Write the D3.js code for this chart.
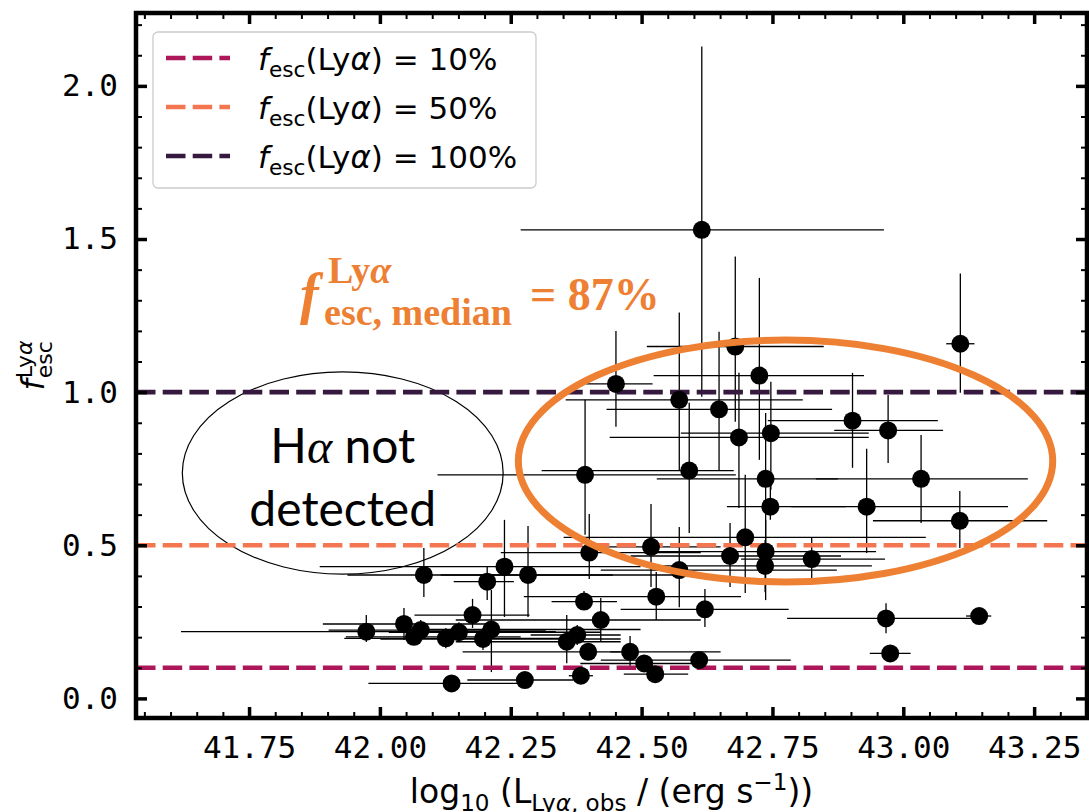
<!DOCTYPE html>
<html>
<head>
<meta charset="utf-8">
<title>fesc Lya</title>
<script src="https://cdn.jsdelivr.net/npm/d3@7"></script>
<style>
  body { margin: 0; background: #fff; }
  svg text { white-space: pre; }
</style>
</head>
<body>
<div id="wrapper"></div>
<script>
// values: log10 L_Lya,obs and f_esc with (lower, upper) errors
var lum = [41.974, 42.046, 42.065, 42.078, 42.084, 42.126, 42.137, 42.151, 42.177, 42.197,
           42.213, 42.205, 42.238, 42.283, 42.277, 42.392, 42.400, 42.390, 42.422, 42.357,
           42.377, 42.398, 42.384, 42.478, 42.505, 42.526, 42.518, 42.528, 42.572, 42.621,
           42.610, 42.572, 42.648, 42.686, 42.591, 42.451, 42.669, 42.698, 42.747, 42.737,
           42.746, 42.737, 42.736, 42.825, 42.903, 42.971, 43.034, 42.930, 43.108, 42.967,
           43.145, 42.975, 43.109, 42.615, 42.679, 42.725];
var lumErrLo = [0.354, 0.155, 0.130, 0.176, 0.146, 0.194, 0.159, 0.134, 0.111, 0.196,
                0.174, 0.064, 0.353, 0.167, 0.110, 0.282, 0.169, 0.062, 0.277, 0.212,
                0.089, 0.240, 0.023, 0.038, 0.122, 0.060, 0.096, 0.253, 0.150, 0.161,
                0.188, 0.217, 0.215, 0.247, 0.282, 0.057, 0.190, 0.347, 0.172, 0.208,
                0.083, 0.219, 0.199, 0.135, 0.162, 0.103, 0.201, 0.144, 0.166, 0.189,
                0.025, 0.039, 0.027, 0.346, 0.169, 0.202];
var lumErrHi = [0.362, 0.166, 0.204, 0.239, 0.361, 0.248, 0.151, 0.271, 0.109, 0.263,
                0.285, 0.051, 0.260, 0.330, 0.093, 0.288, 0.213, 0.063, 0.191, 0.103,
                0.083, 0.062, 0.023, 0.173, 0.108, 0.063, 0.133, 0.162, 0.301, 0.160,
                0.175, 0.236, 0.216, 0.248, 0.085, 0.070, 0.212, 0.345, 0.187, 0.138,
                0.144, 0.211, 0.204, 0.140, 0.163, 0.105, 0.204, 0.270, 0.167, 0.178,
                0.023, 0.039, 0.027, 0.348, 0.169, 0.200];
var fesc = [0.218, 0.243, 0.201, 0.223, 0.403, 0.196, 0.049, 0.216, 0.272, 0.194,
            0.225, 0.381, 0.430, 0.403, 0.060, 0.730, 0.476, 0.316, 0.256, 0.185,
            0.207, 0.152, 0.074, 0.152, 0.114, 0.079, 0.495, 0.332, 0.419, 0.291,
            0.125, 0.975, 0.944, 0.852, 0.744, 1.027, 0.465, 0.526, 0.866, 0.717,
            0.626, 0.479, 0.433, 0.455, 0.907, 0.875, 0.717, 0.626, 0.580, 0.261,
            0.269, 0.147, 1.158, 1.530, 1.149, 1.054];
var fescErrLo = [0.034, 0.052, 0.027, 0.032, 0.072, 0.032, 0.022, 0.033, 0.042, 0.036,
                 0.139, 0.060, 0.164, 0.137, 0.020, 0.196, 0.086, 0.027, 0.072, 0.070,
                 0.033, 0.028, 0.020, 0.050, 0.025, 0.020, 0.131, 0.076, 0.121, 0.058,
                 0.025, 0.229, 0.201, 0.230, 0.204, 0.140, 0.101, 0.182, 0.185, 0.216,
                 0.043, 0.158, 0.086, 0.062, 0.154, 0.106, 0.144, 0.151, 0.089, 0.048,
                 0.020, 0.023, 0.160, 0.545, 0.246, 0.275];
var fescErrHi = [0.054, 0.052, 0.029, 0.033, 0.088, 0.034, 0.024, 0.033, 0.053, 0.036,
                 0.129, 0.049, 0.153, 0.160, 0.020, 0.245, 0.126, 0.035, 0.072, 0.087,
                 0.033, 0.028, 0.020, 0.052, 0.025, 0.020, 0.140, 0.081, 0.141, 0.066,
                 0.025, 0.285, 0.253, 0.211, 0.221, 0.173, 0.108, 0.204, 0.168, 0.215,
                 0.087, 0.104, 0.084, 0.069, 0.156, 0.116, 0.143, 0.189, 0.097, 0.050,
                 0.020, 0.023, 0.229, 0.599, 0.294, 0.319];

// reference escape fractions
var refLevels = [0.1, 0.5, 1.0];
var refLabels = ["10%", "50%", "100%"];

// tick labels
var xTickValues = [41.75, 42.00, 42.25, 42.50, 42.75, 43.00, 43.25];
var xTickLabels = ["41.75", "42.00", "42.25", "42.50", "42.75", "43.00", "43.25"];
var yTickValues = [0.0, 0.5, 1.0, 1.5, 2.0];
var yTickLabels = ["0.0", "0.5", "1.0", "1.5", "2.0"];

var refColors = ["#ad1759", "#f37651", "#35193e"];
var orange = "#ee8033";

var svg = d3.select("#wrapper").append("svg")
  .attr("width", 1089).attr("height", 812)
  .style("background", "#fff")
  .style("font-family", "'DejaVu Sans', sans-serif");

var plot = {left: 136, right: 1087, top: 13, bottom: 718};
var x = d3.scaleLinear().domain([41.534, 43.351]).range([plot.left, plot.right]);
var y = d3.scaleLinear().domain([-0.064, 2.238]).range([plot.bottom, plot.top]);

svg.append("clipPath").attr("id", "clip").append("rect")
  .attr("x", plot.left).attr("y", plot.top)
  .attr("width", plot.right - plot.left).attr("height", plot.bottom - plot.top);

var g = svg.append("g").attr("clip-path", "url(#clip)");

// small helper for math-like labels: parts of {t, sub, sup, it}
function rich(textSel, base, parts) {
  var cur = 0;
  parts.forEach(function(p) {
    var target = p.sub ? 0.24 * base : (p.sup ? -0.40 * base : 0);
    var size = (p.sub || p.sup) ? base * 0.7 : base;
    var ts = textSel.append("tspan")
      .attr("dy", target - cur)
      .attr("font-size", size)
      .text(p.t);
    if (p.it) ts.attr("font-style", "italic");
    cur = target;
  });
}

// "H alpha not detected" ellipse
var haCx = 41.929, haCy = 0.736, haRx = 0.3065, haRy = 0.330;
g.append("ellipse")
  .attr("cx", x(haCx)).attr("cy", y(haCy))
  .attr("rx", x(haCx + haRx) - x(haCx)).attr("ry", y(haCy - haRy) - y(haCy))
  .attr("fill", "none").attr("stroke", "#000").attr("stroke-width", 1.2);

var pts = d3.range(lum.length).map(function(i) {
  return {x: lum[i], xl: lumErrLo[i], xh: lumErrHi[i], y: fesc[i], yl: fescErrLo[i], yh: fescErrHi[i]};
});

// error bars
g.selectAll(".xerr").data(pts).enter().append("line")
  .attr("x1", function(d) { return x(d.x - d.xl); })
  .attr("x2", function(d) { return x(d.x + d.xh); })
  .attr("y1", function(d) { return y(d.y); })
  .attr("y2", function(d) { return y(d.y); })
  .attr("stroke", "#000").attr("stroke-width", 1.3);
g.selectAll(".yerr").data(pts).enter().append("line")
  .attr("x1", function(d) { return x(d.x); })
  .attr("x2", function(d) { return x(d.x); })
  .attr("y1", function(d) { return y(d.y + d.yh); })
  .attr("y2", function(d) { return y(d.y - d.yl); })
  .attr("stroke", "#000").attr("stroke-width", 1.3);

// reference lines
g.selectAll(".ref").data(refLevels).enter().append("line")
  .attr("x1", plot.left).attr("x2", plot.right)
  .attr("y1", function(d) { return y(d); })
  .attr("y2", function(d) { return y(d); })
  .attr("stroke", function(d, i) { return refColors[i]; })
  .attr("stroke-width", 4.7)
  .attr("stroke-dasharray", "19.5,7.2");

// points
g.selectAll(".pt").data(pts).enter().append("circle")
  .attr("cx", function(d) { return x(d.x); })
  .attr("cy", function(d) { return y(d.y); })
  .attr("r", 9)
  .attr("fill", "#000");

// H alpha text
var haText = svg.append("text")
  .attr("x", x(haCx)).attr("y", y(0.770))
  .attr("text-anchor", "middle")
  .style("font-family", "Lato, sans-serif").attr("font-size", 48);
haText.append("tspan").text("H");
haText.append("tspan").style("font-family", "'Liberation Serif', serif").attr("font-style", "italic").text("α");
haText.append("tspan").text(" not");
svg.append("text")
  .attr("x", x(haCx)).attr("y", y(0.564))
  .attr("text-anchor", "middle")
  .style("font-family", "Lato, sans-serif").attr("font-size", 48)
  .text("detected");

// orange ellipse around the detected sample
var ovCx = 42.775, ovCy = 0.775, ovRx = 0.5105, ovRy = 0.395;
g.append("ellipse")
  .attr("cx", x(ovCx)).attr("cy", y(ovCy))
  .attr("rx", x(ovCx + ovRx) - x(ovCx)).attr("ry", y(ovCy - ovRy) - y(ovCy))
  .attr("fill", "none").attr("stroke", orange).attr("stroke-width", 7);

// median annotation
var ann = svg.append("g")
  .attr("transform", "translate(" + x(41.8475) + "," + y(1.2645) + ")")
  .attr("fill", orange)
  .style("font-family", "'Liberation Serif', serif")
  .style("font-weight", "bold");
ann.append("text").attr("x", 0).attr("y", 2).attr("font-size", 56)
  .attr("font-style", "italic").text("f");
var annSup = ann.append("text").attr("x", 28).attr("y", -28).attr("font-size", 38);
annSup.append("tspan").text("Ly");
annSup.append("tspan").attr("font-style", "italic").text("α");
ann.append("text").attr("x", 24).attr("y", 14).attr("font-size", 38).text("esc, median");
ann.append("text").attr("x", 230).attr("y", -1).attr("font-size", 46).text("= 87%");

// axes: inward ticks on all four sides
function drawTicks(gen, transform, values, len, width, labels) {
  var a = svg.append("g").attr("transform", transform)
    .call(gen.tickValues(values).tickSize(-len).tickSizeOuter(0).tickPadding(18)
      .tickFormat(function(d, i) { return labels ? labels[i] : ""; }));
  a.select(".domain").remove();
  a.selectAll(".tick line").attr("stroke", "#000").attr("stroke-width", width);
  a.selectAll(".tick text")
    .style("font-family", "'DejaVu Sans Mono', monospace")
    .attr("font-size", 31).attr("fill", "#000");
  return a;
}
function notMajor(v, step) { return Math.abs(v / step - Math.round(v / step)) > 1e-6; }
var xMinor = d3.range(41.55, 43.351, 0.05).filter(function(v) { return notMajor(v, 0.25); });
var yMinor = d3.range(0.1, 2.238, 0.1).filter(function(v) { return notMajor(v, 0.5); });

drawTicks(d3.axisBottom(x), "translate(0," + plot.bottom + ")", xMinor, 6, 2, null);
drawTicks(d3.axisTop(x), "translate(0," + plot.top + ")", xMinor, 6, 2, null);
drawTicks(d3.axisLeft(y), "translate(" + plot.left + ",0)", yMinor, 6, 2, null);
drawTicks(d3.axisRight(y), "translate(" + plot.right + ",0)", yMinor, 6, 2, null);
drawTicks(d3.axisBottom(x), "translate(0," + plot.bottom + ")", xTickValues, 11, 3.5, xTickLabels);
drawTicks(d3.axisTop(x), "translate(0," + plot.top + ")", xTickValues, 11, 3.5, null);
drawTicks(d3.axisLeft(y), "translate(" + plot.left + ",0)", yTickValues, 11, 3.5, yTickLabels);
drawTicks(d3.axisRight(y), "translate(" + plot.right + ",0)", yTickValues, 11, 3.5, null);

// frame
svg.append("rect")
  .attr("x", plot.left).attr("y", plot.top)
  .attr("width", plot.right - plot.left).attr("height", plot.bottom - plot.top)
  .attr("fill", "none").attr("stroke", "#000").attr("stroke-width", 4.5);

// legend
var leg = svg.append("g");
leg.append("rect")
  .attr("x", 153).attr("y", 32).attr("width", 383).attr("height", 156).attr("rx", 5)
  .attr("fill", "#fff").attr("fill-opacity", 0.8)
  .attr("stroke", "#cccccc").attr("stroke-width", 1.3);
refLabels.forEach(function(lab, i) {
  var cy = 58 + i * 49;
  leg.append("line")
    .attr("x1", 166).attr("x2", 230).attr("y1", cy).attr("y2", cy)
    .attr("stroke", refColors[i]).attr("stroke-width", 4.7)
    .attr("stroke-dasharray", "19.5,7.2");
  var t = leg.append("text").attr("x", 258).attr("y", cy + 12).attr("fill", "#000");
  rich(t, 31, [{t: "f", it: true}, {t: "esc", sub: true}, {t: "(Ly"},
               {t: "α", it: true}, {t: ") = " + lab}]);
});

// x label
var xl = svg.append("text")
  .attr("x", (plot.left + plot.right) / 2).attr("y", 803)
  .attr("text-anchor", "middle").attr("fill", "#000");
rich(xl, 33, [{t: "log"}, {t: "10", sub: true}, {t: " (L"}, {t: "Ly", sub: true},
              {t: "α", sub: true, it: true}, {t: ", obs", sub: true},
              {t: " / (erg s"}, {t: "−1", sup: true}, {t: "))"}]);

// y label: f with stacked sub/superscript
var yl = svg.append("g").attr("transform", "translate(44," + (plot.top + plot.bottom) / 2 + ") rotate(-90)");
var fT = yl.append("text").attr("font-size", 32).attr("font-style", "italic").text("f");
var fw = fT.node().getComputedTextLength();
var supT = yl.append("text").attr("x", fw + 1).attr("y", -12).attr("font-size", 22);
supT.append("tspan").text("Ly");
supT.append("tspan").attr("font-style", "italic").text("α");
var subT = yl.append("text").attr("x", fw + 1).attr("y", 8).attr("font-size", 22).text("esc");
var total = fw + 1 + Math.max(supT.node().getComputedTextLength(), subT.node().getComputedTextLength());
yl.selectAll("text").attr("dx", -total / 2);
</script>
</body>
</html>
